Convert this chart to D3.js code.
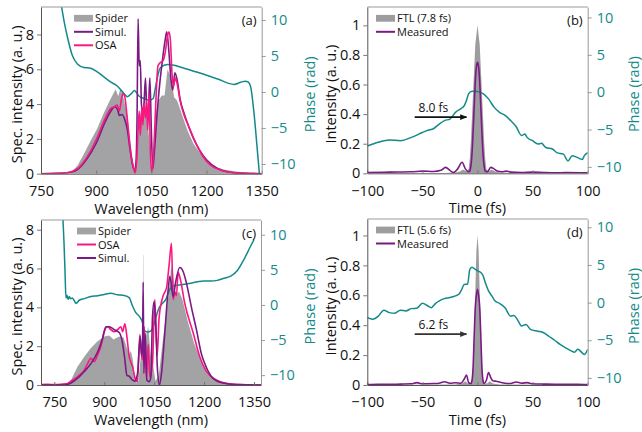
<!DOCTYPE html>
<html><head><meta charset="utf-8">
<script src="https://cdn.jsdelivr.net/npm/d3@7"></script>
<style>body{margin:0;background:#fff} svg{display:block} text{font-family:"Open Sans",sans-serif}</style>
</head><body><svg id="chart" width="642" height="432"></svg>
<script>
// ---------- DATA ----------
// Panel (a): wavelength (nm) vs spectral intensity (a.u.) / phase (rad)
const spiderA = [[750,0],[800,0],[820,0.03],[835,0.15],[849,0.45],[867,1.15],[885,1.9],[903,2.6],[921,3.5],[939,4.3],[953,4.85],[960,4.45],[966,4.9],[975,4.3],[985,3.3],[993,1.8],[998,1.0],[1004,0.3],[1008,0.2],[1012,1.5],[1018,3.2],[1025,3.8],[1032,3.9],[1040,3.0],[1046,1.5],[1052,0.3],[1057,0.8],[1062,3.5],[1070,4.2],[1078,4.5],[1086,4.5],[1094,6.0],[1100,5.7],[1106,5.2],[1112,4.4],[1120,4.2],[1130,3.6],[1148,2.5],[1165,1.7],[1184,1.15],[1200,0.75],[1220,0.42],[1250,0.22],[1275,0.14],[1300,0.08],[1320,0.04],[1350,0.01]];
const simulA = [[750,0],[800,0.02],[830,0.08],[850,0.25],[875,0.85],[900,1.75],[925,3.0],[940,3.6],[950,3.85],[958,3.7],[963,3.35],[970,3.4],[978,3.1],[985,2.5],[992,1.4],[998,0.6],[1004,0.2],[1008,0.6],[1011,3.0],[1014,8.9],[1017,6.2],[1020,6.5],[1023,4.0],[1027,3.5],[1030,4.0],[1034,5.5],[1038,3.5],[1042,3.8],[1046,5.5],[1050,2.5],[1054,0.3],[1058,1.2],[1064,3.0],[1072,5.0],[1080,6.5],[1087,7.6],[1092,8.15],[1097,7.2],[1103,5.5],[1108,4.8],[1114,5.8],[1120,5.4],[1128,4.3],[1140,3.4],[1150,2.8],[1165,2.0],[1180,1.4],[1200,0.8],[1230,0.3],[1260,0.1],[1300,0.02],[1350,0]];
const osaA = [[750,0],[800,0.02],[830,0.1],[850,0.3],[875,0.95],[900,1.95],[925,3.2],[940,3.75],[950,3.85],[957,3.95],[963,3.6],[968,4.2],[973,4.6],[978,4.4],[983,3.5],[990,2.0],[996,0.9],[1002,0.3],[1006,0.05],[1010,0.7],[1014,2.5],[1017,3.6],[1020,2.2],[1024,3.8],[1027,2.8],[1030,4.0],[1034,3.2],[1037,4.2],[1040,2.5],[1044,4.6],[1047,1.5],[1051,0.1],[1055,0.8],[1059,2.5],[1063,4.5],[1068,6.2],[1075,6.4],[1082,6.5],[1088,7.0],[1093,7.8],[1098,8.15],[1102,7.6],[1106,5.8],[1110,5.0],[1115,5.5],[1120,5.2],[1128,4.2],[1140,3.3],[1150,2.8],[1170,1.8],[1190,1.0],[1210,0.5],[1240,0.2],[1280,0.05],[1350,0]];
const phaseA = [[806,11.8],[814,9.5],[822,7.6],[835,5.1],[849,3.9],[867,3.4],[885,3.3],[903,2.8],[921,2.1],[939,1.4],[958,0.8],[971,0.05],[985,-0.65],[996,-0.2],[1004,0.2],[1010,-0.1],[1017,-0.6],[1030,-0.9],[1044,-1.15],[1055,-0.9],[1060,0.3],[1066,1.9],[1075,3.4],[1094,3.8],[1112,3.7],[1139,3.3],[1184,2.6],[1230,1.8],[1275,1.05],[1293,1.35],[1305,1.5],[1313,1.4],[1320,0.7],[1329,-2.9],[1338,-8.0],[1344,-11.5]];

// Panel (b): time (fs) vs intensity / phase
const ftlB = [[-100,0],[-30,0.002],[-20,0.005],[-16,0.012],[-13,0.025],[-10,0.012],[-8,0.03],[-7,0.1],[-6,0.22],[-4,0.55],[-2,0.87],[0,1.0],[2,0.87],[4,0.55],[6,0.22],[7,0.1],[8,0.03],[10,0.012],[13,0.025],[16,0.012],[20,0.005],[30,0.002],[100,0]];
const measB = [[-100,0.005],[-80,0.008],[-60,0.01],[-50,0.015],[-40,0.012],[-33,0.02],[-29,0.04],[-25,0.02],[-22,0.005],[-18,0.03],[-14,0.075],[-11,0.03],[-8,0.01],[-7,0.015],[-6,0.05],[-5,0.13],[-4,0.28],[-3,0.45],[-2,0.62],[-1,0.72],[0,0.75],[1,0.72],[2,0.62],[3,0.45],[4,0.28],[5,0.13],[6,0.05],[7,0.015],[9,0.01],[12,0.04],[15,0.03],[18,0.015],[22,0.01],[26,0.015],[30,0.008],[40,0.005],[50,0.008],[60,0.005],[70,0.003],[80,0.005],[100,0.003]];
const phaseB = [[-100,-7.2],[-90,-6.7],[-80,-6.4],[-70,-6.5],[-60,-6.05],[-50,-5.4],[-45,-5.1],[-40,-4.9],[-35,-4.3],[-30,-3.8],[-25,-3.6],[-20,-2.7],[-15,-2.2],[-12,-1.8],[-10,-1.1],[-8,-0.2],[-5,0.13],[0,0.1],[5,-0.2],[10,-0.9],[15,-2.0],[20,-2.7],[25,-3.1],[30,-3.8],[35,-4.6],[40,-5.8],[43,-5.6],[45,-6.05],[50,-6.5],[55,-6.95],[58,-6.85],[62,-7.4],[68,-7.6],[72,-8.1],[78,-8.3],[82,-9.2],[86,-8.5],[90,-8.7],[95,-9.0],[97,-8.5],[100,-8.1]];

// Panel (c)
const spiderC = [[710,0],[770,0],[785,0.05],[800,0.25],[820,0.95],[840,1.45],[860,1.9],[880,2.25],[900,2.5],[915,2.55],[928,2.35],[945,2.5],[958,2.45],[968,1.9],[975,1.6],[980,1.75],[986,1.3],[991,0.45],[996,0.1],[1003,0.2],[1010,1.5],[1016,2.8],[1016.6,6.7],[1017.4,6.7],[1018,2.8],[1025,2.5],[1032,3.0],[1040,1.5],[1046,1.1],[1054,0.2],[1064,0.5],[1075,2.15],[1085,3.5],[1095,4.9],[1100,5.9],[1105,6.2],[1110,5.25],[1115,4.7],[1125,4.8],[1135,4.4],[1150,3.35],[1170,2.15],[1190,1.3],[1210,0.6],[1240,0.17],[1280,0.03],[1371,0]];
const osaC = [[710,0.02],[730,0.03],[750,0.02],[770,0.04],[790,0.08],[800,0.2],[810,0.3],[820,0.43],[840,0.77],[850,1.1],[860,1.38],[870,1.2],[880,1.55],[890,2.0],[900,2.75],[910,3.0],[920,2.85],[930,2.75],[940,2.85],[950,3.0],[955,2.75],[962,3.15],[968,2.5],[975,1.46],[985,0.95],[993,0.34],[1000,0.17],[1007,2.6],[1014,1.3],[1020,3.0],[1027,0.4],[1032,2.1],[1037,0.4],[1045,1.1],[1052,4.4],[1059,1.5],[1065,3.5],[1077,4.6],[1087,5.0],[1095,6.2],[1102,7.3],[1107,4.4],[1112,4.8],[1117,4.6],[1122,5.8],[1128,5.5],[1142,4.2],[1167,2.7],[1187,1.46],[1207,0.7],[1237,0.26],[1270,0.08],[1310,0.02],[1371,0]];
const simulC = [[710,0],[770,0],[790,0.03],[800,0.1],[820,0.35],[840,0.7],[860,1.1],[880,1.7],[895,2.4],[905,3.0],[915,3.0],[930,2.85],[945,2.7],[955,2.15],[962,1.3],[968,0.5],[975,0.45],[985,0.25],[992,0.2],[1000,0.6],[1008,2.5],[1012,1.5],[1015,2.0],[1017,5.3],[1019,0.6],[1023,2.65],[1028,0.26],[1035,0.17],[1040,0.4],[1045,3.5],[1050,4.3],[1055,3.0],[1060,0.77],[1066,0.0],[1072,0.6],[1082,2.7],[1092,4.9],[1097,5.6],[1107,4.55],[1114,5.25],[1127,6.05],[1137,5.85],[1147,5.25],[1162,4.0],[1177,2.85],[1192,1.6],[1207,0.9],[1227,0.34],[1257,0.1],[1300,0.02],[1371,0]];
const phaseC = [[776,12.2],[779,9],[782,5],[785,1.0],[788,1.4],[791,0.8],[795,1.2],[799,0.9],[804,1.0],[810,0.6],[815,0.24],[825,0.67],[840,0.9],[860,1.2],[880,1.3],[900,1.5],[920,1.65],[940,1.45],[960,1.35],[975,1.05],[985,-0.14],[995,-1.1],[1005,-1.6],[1015,-2.5],[1020,-3.6],[1030,-3.85],[1040,-3.7],[1048,-3.0],[1055,-1.8],[1065,-0.4],[1075,0.24],[1085,0.8],[1095,2.0],[1105,2.7],[1120,2.8],[1140,2.95],[1160,3.1],[1180,3.3],[1200,3.4],[1220,3.4],[1240,3.5],[1260,3.8],[1280,4.1],[1300,4.9],[1320,6.5],[1340,8.4],[1350,9.3]];

// Panel (d)
const ftlD = [[-100,0],[-20,0.003],[-14,0.01],[-11,0.025],[-9,0.012],[-7,0.01],[-6,0.01],[-5,0.04],[-4,0.12],[-3,0.32],[-2,0.62],[-1,0.9],[0,1.0],[1,0.9],[2,0.62],[3,0.32],[4,0.12],[5,0.04],[6,0.01],[7,0.01],[9,0.012],[11,0.025],[14,0.01],[20,0.003],[100,0]];
const measD = [[-100,0.003],[-90,0.005],[-80,0.004],[-70,0.006],[-60,0.008],[-55,0.016],[-50,0.008],[-40,0.01],[-35,0.012],[-30,0.022],[-25,0.012],[-20,0.015],[-15,0.012],[-12,0.04],[-10,0.067],[-8,0.015],[-6,0.01],[-5,0.03],[-4,0.12],[-3,0.33],[-2,0.52],[-1,0.6],[0,0.64],[1,0.6],[2,0.52],[3,0.33],[4,0.12],[5,0.03],[6,0.01],[8,0.03],[10,0.083],[12,0.05],[14,0.028],[17,0.025],[20,0.02],[25,0.012],[30,0.01],[35,0.02],[40,0.012],[45,0.016],[50,0.008],[60,0.006],[70,0.005],[80,0.004],[90,0.005],[100,0.003]];
const phaseD = [[-100,-2.0],[-95,-2.2],[-90,-1.8],[-85,-1.0],[-80,-1.33],[-75,-1.4],[-70,-1.0],[-65,-1.1],[-60,-0.8],[-55,-0.75],[-50,-0.1],[-45,-0.45],[-42,-0.67],[-38,-0.1],[-35,0.2],[-30,0.53],[-25,0.67],[-20,0.9],[-17,1.1],[-15,1.55],[-12,2.4],[-9,2.45],[-7,4.4],[-5,4.7],[-2,4.4],[0,4.2],[3,4.0],[5,3.6],[7,2.7],[10,1.55],[13,0.9],[16,0.2],[20,-0.1],[25,-0.67],[30,-1.8],[33,-1.7],[36,-2.2],[40,-3.1],[44,-2.9],[48,-3.55],[55,-3.8],[60,-4.0],[65,-4.5],[70,-5.0],[75,-5.55],[80,-6.0],[85,-6.4],[88,-6.6],[91,-6.2],[95,-6.67],[97,-6.9],[100,-6.2]];

// Tick values
const wlTicks = [750, 900, 1050, 1200, 1350];
const timeTicks = [-100, -50, 0, 50, 100];
const specTicks = [0, 2, 4, 6, 8];
const intTicks = [0, 0.2, 0.4, 0.6, 0.8, 1];
const phaseTicks = [-10, -5, 0, 5, 10];

// ---------- STYLE ----------
const TEAL = "#13898a", PURPLE = "#7b1a85", PINK = "#f7197f", GRAY = "#a3a3a5", FTLGRAY = "#9d9d9f";
const svg = d3.select("#chart");
const fmt = d => String(d).replace("-", "\u2212");

const panels = [
  {id:"a", l:41, r:261.7, t:7, b:173.7, xd:[750,1350], yd:[0,9.58], pd:[-11.35,11.8], xt:wlTicks, yt:specTicks,
   xtitle:"Wavelength (nm)", ytitle:"Spec. intensity (a. u.)", ytx:22, ptx:315,
   area:spiderA, lines:[[simulA,PURPLE],[osaA,PINK]], phase:phaseA,
   legend:[["Spider","rect",GRAY],["Simul.","line",PURPLE],["OSA","line",PINK]], lx:74, ly:18.3},
  {id:"b", l:367.3, r:587.7, t:7, b:173.3, xd:[-100,100], yd:[0,1.124], pd:[-10.86,11.4], xt:timeTicks, yt:intTicks,
   xtitle:"Time (fs)", ytitle:"Intensity (a. u.)", ytx:336, ptx:639,
   area:ftlB, areaColor:FTLGRAY, lines:[[measB,PURPLE]], phase:phaseB,
   legend:[["FTL (7.8 fs)","rect",FTLGRAY],["Measured","line",PURPLE]], lx:376, ly:18.3,
   arrow:{x0:-57, x1:-10, y:0.38, label:"8.0 fs", color:"#111"}},
  {id:"c", l:41, r:261, t:220, b:385, xd:[710,1371], yd:[0,8.5], pd:[-11.4,12.1], xt:wlTicks, yt:specTicks,
   xtitle:"Wavelength (nm)", ytitle:"Spec. intensity (a. u.)", ytx:22, ptx:315,
   area:spiderC, lines:[[osaC,PINK],[simulC,PURPLE]], phase:phaseC,
   legend:[["Spider","rect",GRAY],["OSA","line",PINK],["Simul.","line",PURPLE]], lx:77, ly:231},
  {id:"d", l:367.3, r:587.7, t:219, b:385, xd:[-100,100], yd:[0,1.11], pd:[-10.94,11.1], xt:timeTicks, yt:intTicks,
   xtitle:"Time (fs)", ytitle:"Intensity (a. u.)", ytx:336, ptx:639,
   area:ftlD, areaColor:FTLGRAY, lines:[[measD,PURPLE]], phase:phaseD,
   legend:[["FTL (5.6 fs)","rect",FTLGRAY],["Measured","line",PURPLE]], lx:376, ly:230,
   arrow:{x0:-57, x1:-10, y:0.34, label:"6.2 fs", color:"#333"}}
];

const defs = svg.append("defs");
["#111","#333"].forEach((c,i)=>{
  defs.append("marker").attr("id","ah"+i).attr("viewBox","0 0 10 10").attr("refX",9).attr("refY",5)
    .attr("markerWidth",7).attr("markerHeight",7).attr("markerUnits","userSpaceOnUse").attr("orient","auto")
    .append("path").attr("d","M0,1 L10,5 L0,9 Z").attr("fill",c);
});

panels.forEach(P => {
  const g = svg.append("g");
  const x = d3.scaleLinear().domain(P.xd).range([P.l, P.r]);
  const y = d3.scaleLinear().domain(P.yd).range([P.b, P.t]);
  const p = d3.scaleLinear().domain(P.pd).range([P.b, P.t]);
  defs.append("clipPath").attr("id","clip"+P.id).append("rect")
    .attr("x",P.l).attr("y",P.t).attr("width",P.r-P.l).attr("height",P.b-P.t);
  const plot = g.append("g").attr("clip-path","url(#clip"+P.id+")");

  plot.append("path").datum(P.area)
    .attr("d", d3.area().x(d=>x(d[0])).y0(y(0)).y1(d=>y(d[1])))
    .attr("fill", P.areaColor || GRAY);
  plot.append("path").datum(P.phase)
    .attr("d", d3.line().x(d=>x(d[0])).y(d=>p(d[1])).curve(d3.curveMonotoneX))
    .attr("fill","none").attr("stroke",TEAL).attr("stroke-width",1.5);
  P.lines.forEach(([data,color]) => {
    plot.append("path").datum(data)
      .attr("d", d3.line().x(d=>x(d[0])).y(d=>y(d[1])).curve(d3.curveMonotoneX))
      .attr("fill","none").attr("stroke",color).attr("stroke-width",1.6);
  });

  // top frame
  g.append("line").attr("x1",P.l).attr("x2",P.r).attr("y1",P.t).attr("y2",P.t).attr("stroke","#9a9a9a").attr("stroke-width",1);

  // axes
  const ax = g.append("g").attr("transform",`translate(0,${P.b})`)
    .call(d3.axisBottom(x).tickValues(P.xt).tickSizeInner(-3).tickSizeOuter(0).tickPadding(12).tickFormat(fmt));
  const ay = g.append("g").attr("transform",`translate(${P.l},0)`)
    .call(d3.axisLeft(y).tickValues(P.yt).tickSizeInner(4).tickSizeOuter(0).tickPadding(3).tickFormat(fmt));
  const ap = g.append("g").attr("transform",`translate(${P.r},0)`)
    .call(d3.axisRight(p).tickValues(phaseTicks).tickSizeInner(4).tickSizeOuter(0).tickPadding(5).tickFormat(fmt));
  [ax,ay].forEach(a => { a.select(".domain").attr("stroke","#555"); a.selectAll(".tick line").attr("stroke","#777");
    a.selectAll("text").attr("font-size",14.5).attr("fill","#111").attr("font-family","Open Sans"); });
  ap.select(".domain").attr("stroke","#999"); ap.selectAll(".tick line").attr("stroke","#999");
  ap.selectAll("text").attr("font-size",14.5).attr("fill",TEAL).attr("font-family","Open Sans");

  // titles
  g.append("text").attr("x",(P.l+P.r)/2).attr("y",P.b+40).attr("text-anchor","middle")
    .attr("font-size",14.5).attr("fill","#111").text(P.xtitle);
  const cy = (P.t+P.b)/2 + 4;
  g.append("text").attr("transform",`translate(${P.ytx},${cy}) rotate(-90)`).attr("text-anchor","middle")
    .attr("font-size",14.5).attr("fill","#111").text(P.ytitle);
  g.append("text").attr("transform",`translate(${P.ptx},${cy}) rotate(-90)`).attr("text-anchor","middle")
    .attr("font-size",14.5).attr("fill",TEAL).text("Phase (rad)");

  // panel label
  g.append("text").attr("x",P.r-5).attr("y",P.t+18).attr("text-anchor","end")
    .attr("font-size",13).attr("fill","#111").text("("+P.id+")");

  // legend
  P.legend.forEach(([label,kind,color],i) => {
    const yy = P.ly + i*13.5;
    if (kind==="rect") g.append("rect").attr("x",P.lx).attr("y",yy-3.4).attr("width",19).attr("height",6.8).attr("fill",color);
    else g.append("line").attr("x1",P.lx).attr("x2",P.lx+19).attr("y1",yy).attr("y2",yy).attr("stroke",color).attr("stroke-width",2);
    g.append("text").attr("x",P.lx+21).attr("y",yy+4).attr("font-size",11).attr("font-family","DejaVu Sans")
      .attr("fill","#111").text(label);
  });

  // arrow annotation
  if (P.arrow) {
    const A = P.arrow;
    g.append("line").attr("x1",x(A.x0)).attr("x2",x(A.x1)).attr("y1",y(A.y)).attr("y2",y(A.y))
      .attr("stroke",A.color).attr("stroke-width",1.8).attr("marker-end", A.color==="#111"?"url(#ah0)":"url(#ah1)");
    g.append("text").attr("x",x(-40)).attr("y",y(A.y)-5).attr("text-anchor","middle")
      .attr("font-size",12).attr("fill","#111").text(A.label);
  }
});
</script></body></html>
